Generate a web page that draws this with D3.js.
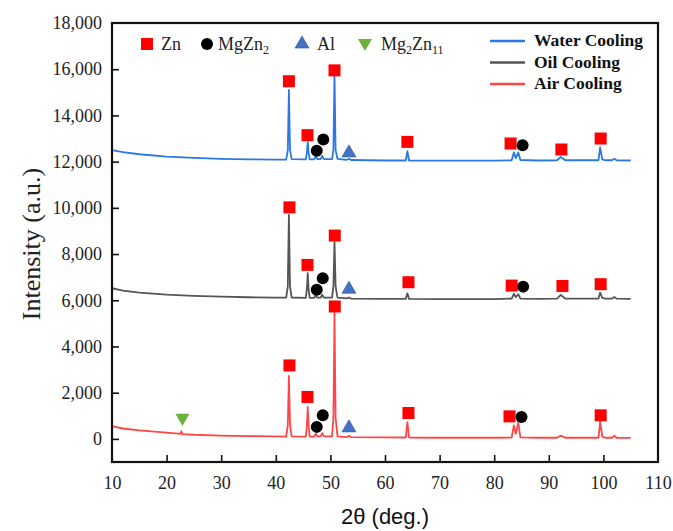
<!DOCTYPE html>
<html>
<head>
<meta charset="utf-8">
<script src="https://cdn.jsdelivr.net/npm/d3@7"></script>
<style>
  html, body { margin: 0; padding: 0; background: #fff; }
  svg { display: block; }
</style>
</head>
<body>
<svg id="chart" width="673" height="531"></svg>
<script>
// XRD patterns: [2θ (deg), intensity (a.u.)]
const waterCooling = [
  [10, 12500], [12, 12410], [15, 12320], [20, 12220], [25, 12160], [30, 12120], [35, 12100],
  [40, 12090], [41.9, 12090], [42.2, 12500], [42.4, 15100], [42.6, 12500], [42.9, 12110],
  [45.5, 12100], [45.7, 12400], [45.85, 12850], [46.0, 12400], [46.2, 12100],
  [47.0, 12100], [47.3, 12230], [47.6, 12110], [48.2, 12110], [48.5, 12250], [48.8, 12110],
  [50.3, 12110], [50.55, 12500], [50.75, 15750], [50.95, 12500], [51.3, 12120],
  [53.0, 12080], [53.4, 12120], [53.8, 12070], [60, 12050], [63.8, 12050], [64.1, 12450],
  [64.4, 12050], [70, 12040], [80, 12040], [83.2, 12060], [83.6, 12400], [83.95, 12150],
  [84.4, 12400], [84.8, 12070], [88, 12050], [91.5, 12060], [92.2, 12200], [93.0, 12060],
  [99.1, 12060], [99.4, 12620], [99.8, 12100], [100.3, 12060], [101.6, 12060], [102.0, 12130],
  [102.4, 12060], [105, 12050]
];
const oilCooling = [
  [10, 6520], [12, 6420], [15, 6330], [20, 6240], [25, 6190], [30, 6160], [35, 6130],
  [40, 6110], [41.9, 6110], [42.2, 6600], [42.4, 9690], [42.6, 6600], [42.9, 6120],
  [45.5, 6100], [45.7, 6500], [45.85, 7170], [46.0, 6500], [46.2, 6100],
  [47.0, 6100], [47.3, 6220], [47.6, 6110], [48.2, 6110], [48.5, 6240], [48.8, 6110],
  [50.3, 6110], [50.55, 6600], [50.75, 8530], [50.95, 6600], [51.3, 6110],
  [53.0, 6080], [53.4, 6120], [53.8, 6070], [60, 6060], [63.8, 6060], [64.1, 6300],
  [64.4, 6060], [70, 6050], [80, 6050], [83.2, 6070], [83.6, 6280], [83.95, 6140],
  [84.4, 6260], [84.8, 6070], [88, 6060], [91.5, 6070], [92.2, 6230], [93.0, 6070],
  [99.1, 6070], [99.4, 6330], [99.8, 6100], [100.3, 6070], [101.6, 6070], [102.0, 6140],
  [102.4, 6070], [105, 6060]
];
const airCooling = [
  [10, 550], [12, 450], [15, 370], [20, 270], [22.5, 220], [22.7, 330], [22.9, 210],
  [25, 180], [30, 140], [35, 120], [40, 105], [41.9, 100], [42.2, 600], [42.4, 2730],
  [42.6, 600], [42.9, 110], [45.5, 100], [45.7, 600], [45.85, 1380], [46.0, 600], [46.2, 100],
  [47.0, 100], [47.3, 220], [47.6, 110], [48.2, 110], [48.5, 250], [48.8, 110],
  [50.3, 110], [50.55, 900], [50.75, 5450], [50.95, 900], [51.3, 110],
  [53.0, 80], [53.4, 130], [53.8, 75], [60, 70], [63.8, 60], [64.1, 720], [64.4, 60],
  [70, 50], [80, 50], [83.2, 60], [83.6, 580], [83.95, 220], [84.4, 690], [84.8, 70],
  [88, 50], [91.5, 50], [92.2, 140], [93.0, 50], [99.1, 50], [99.4, 740], [99.8, 100],
  [100.3, 50], [101.6, 50], [102.0, 140], [102.4, 50], [105, 40]
];

// Phase markers: [2θ (deg), intensity (a.u.)]
const znMarks = [
  [42.4, 15480], [45.8, 13145], [50.75, 15950], [64.1, 12855], [83.0, 12785], [92.3, 12525], [99.5, 13000],
  [42.5, 10020], [45.8, 7530], [50.8, 8800], [64.3, 6780], [83.2, 6635], [92.5, 6620], [99.5, 6695],
  [42.5, 3180], [45.8, 1815], [50.8, 5730], [64.3, 1120], [82.8, 975], [99.5, 1020]
];
const mgZn2Marks = [
  [48.7, 12960], [47.5, 12470], [85.2, 12710],
  [48.6, 6955], [47.5, 6450], [85.3, 6590],
  [48.6, 1020], [47.5, 520], [85.0, 950]
];
const alMarks = [[53.4, 12420], [53.4, 6520], [53.4, 520]];
const mg2Zn11Marks = [[22.9, 865]];

const xTicks = [10, 20, 30, 40, 50, 60, 70, 80, 90, 100, 110];
const yTicks = [0, 2000, 4000, 6000, 8000, 10000, 12000, 14000, 16000, 18000];

const seriesNames = ["Water Cooling", "Oil Cooling", "Air Cooling"];
const seriesColors = ["#2a78e4", "#555555", "#ff4646"];
const phaseNames = ["Zn", "MgZn2", "Al", "Mg2Zn11"];

const svg = d3.select("#chart");
const margin = { left: 112, right: 15, top: 23, bottom: 69 };
const W = 673, H = 531;

const x = d3.scaleLinear().domain([10, 110]).range([margin.left, W - margin.right]);
const y = d3.scaleLinear().domain([-1000, 18000]).range([H - margin.bottom, margin.top]);

const serif = "'Liberation Serif', 'DejaVu Serif', serif";

// Lines
const line = d3.line().x(d => x(d[0])).y(d => y(d[1]));
[waterCooling, oilCooling, airCooling].forEach((data, i) => {
  svg.append("path")
    .datum(data)
    .attr("fill", "none")
    .attr("stroke", seriesColors[i])
    .attr("stroke-width", 1.8)
    .attr("stroke-linejoin", "round")
    .attr("d", line);
});

// Markers
const sq = 12;
svg.append("g").selectAll("rect").data(znMarks).join("rect")
  .attr("x", d => x(d[0]) - sq / 2).attr("y", d => y(d[1]) - sq / 2)
  .attr("width", sq).attr("height", sq).attr("fill", "#ff0000");
svg.append("g").selectAll("circle").data(mgZn2Marks).join("circle")
  .attr("cx", d => x(d[0])).attr("cy", d => y(d[1])).attr("r", 6).attr("fill", "#000");
const triUp = d3.symbol().type(d3.symbolTriangle).size(85);
svg.append("g").selectAll("path").data(alMarks).join("path")
  .attr("transform", d => `translate(${x(d[0])},${y(d[1]) + 1})`)
  .attr("d", triUp).attr("fill", "#4472c4").attr("stroke", "#2f5597").attr("stroke-width", 0.6);
svg.append("g").selectAll("path").data(mg2Zn11Marks).join("path")
  .attr("transform", d => `translate(${x(d[0])},${y(d[1]) - 1}) rotate(180)`)
  .attr("d", triUp).attr("fill", "#6ab23a");

// Axes (ticks inside)
const xAxis = svg.append("g")
  .attr("transform", `translate(0,${H - margin.bottom})`)
  .call(d3.axisBottom(x).tickValues(xTicks).tickSizeInner(-7).tickSizeOuter(0).tickPadding(14).tickFormat(d3.format("d")));
const yAxis = svg.append("g")
  .attr("transform", `translate(${margin.left},0)`)
  .call(d3.axisLeft(y).tickValues(yTicks).tickSizeInner(-7).tickSizeOuter(0).tickPadding(10).tickFormat(d3.format(",")));
[xAxis, yAxis].forEach(g => {
  g.select(".domain").remove();
  g.selectAll(".tick line").attr("stroke", "#111").attr("stroke-width", 1.6);
  g.selectAll(".tick text").attr("font-family", serif).attr("font-size", 18).attr("fill", "#222");
});
xAxis.selectAll(".tick").filter(d => d === 10 || d === 110).select("line").remove();
yAxis.selectAll(".tick").filter(d => d === 18000).select("line").remove();

// Frame
svg.append("rect")
  .attr("x", margin.left).attr("y", margin.top)
  .attr("width", W - margin.left - margin.right).attr("height", H - margin.top - margin.bottom)
  .attr("fill", "none").attr("stroke", "#111").attr("stroke-width", 2.2);

// Axis titles
svg.append("text")
  .attr("x", 385).attr("y", 524).attr("text-anchor", "middle")
  .attr("font-family", "'Liberation Sans', Arial, sans-serif").attr("font-size", 22).attr("fill", "#111")
  .text("2θ (deg.)");
svg.append("text")
  .attr("transform", "translate(40,244) rotate(-90)").attr("text-anchor", "middle")
  .attr("font-family", serif).attr("font-size", 26).attr("fill", "#222")
  .text("Intensity (a.u.)");

// Phase legend
const phaseLeg = svg.append("g").attr("font-family", serif).attr("font-size", 18).attr("fill", "#222");
const legY = 44;
phaseLeg.append("rect").attr("x", 141).attr("y", legY - 6).attr("width", 12).attr("height", 12).attr("fill", "#ff0000");
phaseLeg.append("text").attr("x", 161).attr("y", legY + 6).text(phaseNames[0]);
phaseLeg.append("circle").attr("cx", 207).attr("cy", legY).attr("r", 6).attr("fill", "#000");
const t1 = phaseLeg.append("text").attr("x", 218).attr("y", legY + 6).text("MgZn");
t1.append("tspan").attr("font-size", 12).attr("dy", 4).text("2");
phaseLeg.append("path").attr("transform", `translate(302,${legY})`).attr("d", triUp)
  .attr("fill", "#4472c4").attr("stroke", "#2f5597").attr("stroke-width", 0.6);
phaseLeg.append("text").attr("x", 317).attr("y", legY + 6).text(phaseNames[2]);
phaseLeg.append("path").attr("transform", `translate(365,${legY - 1}) rotate(180)`).attr("d", triUp).attr("fill", "#6ab23a");
const t2 = phaseLeg.append("text").attr("x", 381).attr("y", legY + 6).text("Mg");
t2.append("tspan").attr("font-size", 12).attr("dy", 4).text("2");
t2.append("tspan").attr("dy", -4).text("Zn");
t2.append("tspan").attr("font-size", 12).attr("dy", 4).text("11");

// Series legend
const serLeg = svg.append("g").attr("font-family", serif).attr("font-size", 17.5).attr("font-weight", "bold").attr("fill", "#111");
seriesNames.forEach((name, i) => {
  const yy = 41 + i * 21.5;
  serLeg.append("line").attr("x1", 490).attr("x2", 525).attr("y1", yy).attr("y2", yy)
    .attr("stroke", seriesColors[i]).attr("stroke-width", 2.5);
  serLeg.append("text").attr("x", 534).attr("y", yy + 5).text(name);
});
</script>
</body>
</html>
